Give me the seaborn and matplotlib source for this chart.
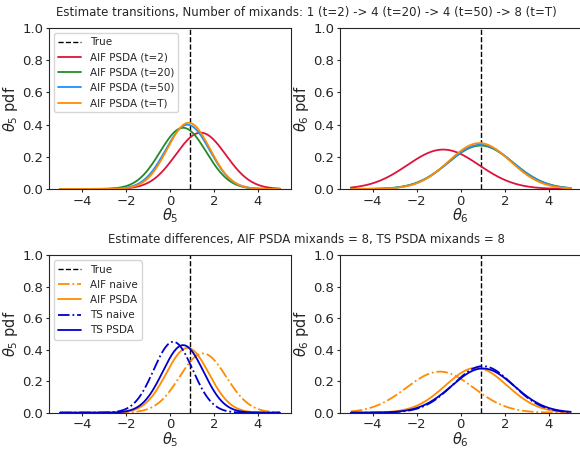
import numpy as np
import pandas as pd
import seaborn as sns
import matplotlib
matplotlib.use("Agg")
import matplotlib.pyplot as plt

# true parameter values
theta_true = [0.9, 0.9]

# top row: posterior estimates over time (mean, std) for theta5 / theta6
trans_labels = ['AIF PSDA (t=2)', 'AIF PSDA (t=20)', 'AIF PSDA (t=50)', 'AIF PSDA (t=T)']
trans_colors = ['crimson', 'forestgreen', 'dodgerblue', 'darkorange']
trans_mu5 = [1.4, 0.6, 0.8, 0.85]
trans_sd5 = [1.14, 1.05, 1.0, 0.97]
trans_mu6 = [-0.8, 0.9, 0.9, 0.85]
trans_sd6 = [1.63, 1.48, 1.45, 1.4]

# bottom row: naive vs PSDA for AIF and TS
diff_labels = ['AIF naive', 'AIF PSDA', 'TS naive', 'TS PSDA']
diff_colors = ['darkorange', 'darkorange', 'mediumblue', 'mediumblue']
diff_styles = ['-.', '-', '-.', '-']
diff_mu5 = [1.5, 0.8, 0.15, 0.6]
diff_sd5 = [1.06, 0.97, 0.886, 0.93]
diff_mu6 = [-0.95, 0.7, 1.0, 1.0]
diff_sd6 = [1.53, 1.4, 1.35, 1.42]

x = np.linspace(-5, 5, 200)


def gauss(mu, sd):
    return np.exp(-0.5 * ((x - mu) / sd) ** 2) / (sd * np.sqrt(2 * np.pi))


def draw(ax, labels, colors, styles, mus, sds, true_val, idx, legend):
    ax.axvline(true_val, color='k', ls='--', lw=1, label='True')
    for lab, c, s, m, sd in zip(labels, colors, styles, mus, sds):
        df = pd.DataFrame({'x': x, 'pdf': gauss(m, sd)})
        sns.lineplot(data=df, x='x', y='pdf', ax=ax, color=c, ls=s, lw=1.3, label=lab)
    ax.set_ylim(0, 1)
    ax.set_xlim(-5.5, 5.5)
    ax.set_xticks([-4, -2, 0, 2, 4])
    ax.set_yticks([0, 0.2, 0.4, 0.6, 0.8, 1.0])
    ax.set_xlabel(r'$\theta_%d$' % idx, fontsize=10.5, labelpad=-1)
    ax.set_ylabel(r'$\theta_%d$ pdf' % idx, fontsize=10.5, labelpad=2)
    ax.tick_params(labelsize=9.5, pad=1.5, length=2.5)
    if legend:
        ax.legend(loc='upper left', fontsize=7.5, handlelength=2.2)
    else:
        ax.get_legend().remove()


sns.set_style("ticks")
fig = plt.figure(figsize=(5.8, 4.51), dpi=100)
ax1 = fig.add_axes([0.0845, 0.581, 0.417, 0.357])
ax2 = fig.add_axes([0.586, 0.581, 0.417, 0.357])
ax3 = fig.add_axes([0.0845, 0.085, 0.417, 0.349])
ax4 = fig.add_axes([0.586, 0.085, 0.417, 0.349])

solid = ['-'] * 4
draw(ax1, trans_labels, trans_colors, solid, trans_mu5, trans_sd5, theta_true[0], 5, True)
draw(ax2, trans_labels, trans_colors, solid, trans_mu6, trans_sd6, theta_true[1], 6, False)
draw(ax3, diff_labels, diff_colors, diff_styles, diff_mu5, diff_sd5, theta_true[0], 5, True)
draw(ax4, diff_labels, diff_colors, diff_styles, diff_mu6, diff_sd6, theta_true[1], 6, False)

fig.text(0.528, 0.973, 'Estimate transitions, Number of mixands: 1 (t=2) -> 4 (t=20) -> 4 (t=50) -> 8 (t=T)',
         ha='center', va='center', fontsize=8.5)
fig.text(0.528, 0.468, 'Estimate differences, AIF PSDA mixands = 8, TS PSDA mixands = 8',
         ha='center', va='center', fontsize=8.5)

fig.savefig('out.png', dpi=100)
